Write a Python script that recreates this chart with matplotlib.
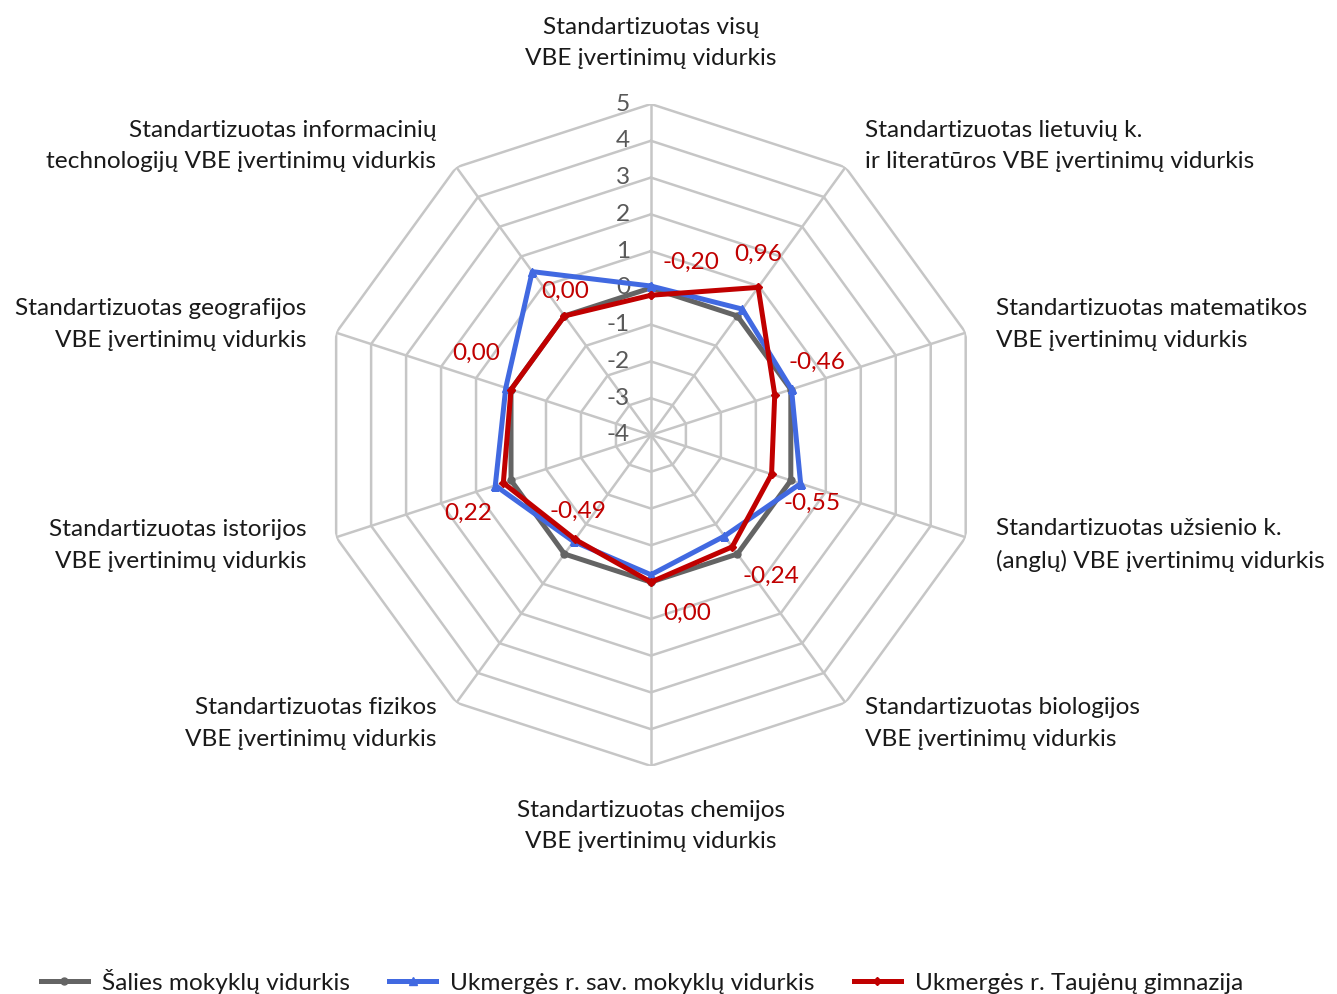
import numpy as np
import matplotlib
matplotlib.use("Agg")
import matplotlib.pyplot as plt

plt.rcParams["font.family"] = ["Lato", "DejaVu Sans"]

categories = [
    "Standartizuotas visų\nVBE įvertinimų vidurkis",
    "Standartizuotas lietuvių k.\nir literatūros VBE įvertinimų vidurkis",
    "Standartizuotas matematikos\nVBE įvertinimų vidurkis",
    "Standartizuotas užsienio k.\n(anglų) VBE įvertinimų vidurkis",
    "Standartizuotas biologijos\nVBE įvertinimų vidurkis",
    "Standartizuotas chemijos\nVBE įvertinimų vidurkis",
    "Standartizuotas fizikos\nVBE įvertinimų vidurkis",
    "Standartizuotas istorijos\nVBE įvertinimų vidurkis",
    "Standartizuotas geografijos\nVBE įvertinimų vidurkis",
    "Standartizuotas informacinių\ntechnologijų VBE įvertinimų vidurkis",
]
salies = [0.00, 0.00, 0.00, 0.00, 0.00, 0.00, 0.00, 0.00, 0.00, 0.00]
ukmerges_sav = [0.05, 0.23, 0.02, 0.28, -0.60, -0.20, -0.42, 0.45, 0.15, 1.49]
taujenu = [-0.20, 0.96, -0.46, -0.55, -0.24, 0.00, -0.49, 0.22, 0.00, 0.00]
series_names = ["Šalies mokyklų vidurkis",
                "Ukmergės r. sav. mokyklų vidurkis",
                "Ukmergės r. Taujėnų gimnazija"]
r_ticks = [-4, -3, -2, -1, 0, 1, 2, 3, 4, 5]

grid_col = "#c6c6c6"
text_col = "#1a1a1a"
tick_col = "#595959"
red = "#c00000"
fs = 17.6

n = len(categories)
theta = np.arange(n) * 2 * np.pi / n
theta_c = np.append(theta, theta[0])

fig = plt.figure(figsize=(13.37, 9.94), dpi=100)
ax = fig.add_axes([0.2393, 0.2294, 0.4951, 0.666], projection="polar")
ax.set_theta_zero_location("N")
ax.set_theta_direction(-1)
ax.set_ylim(r_ticks[0], r_ticks[-1])
ax.set_xticks([])
ax.set_yticks([])
ax.grid(False)
ax.spines["polar"].set_visible(False)
ax.patch.set_visible(False)

# polygon grid
for rv in r_ticks[1:]:
    ax.plot(theta_c, [rv] * (n + 1), color=grid_col, lw=1.8, zorder=1)
for t in theta:
    ax.plot([t, t], [r_ticks[0], r_ticks[-1]], color=grid_col, lw=1.8, zorder=1)

# radial tick labels
for rv in r_ticks:
    ax.annotate(str(rv), xy=(0, rv), xytext=(-21, 0), textcoords="offset pixels",
                ha="right", va="center", fontsize=fs, color=tick_col, zorder=2)

# category labels
label_off = [(0, 61), (20, 21), (30, 8), (30, -8), (20, -21),
             (0, -60), (-20, -21), (-30, -8), (-30, 8), (-20, 21)]
for t, lab, (dx, dy) in zip(theta, categories, label_off):
    ha = "center" if dx == 0 else ("left" if dx > 0 else "right")
    ax.annotate(lab, xy=(t, r_ticks[-1]), xytext=(dx, dy), textcoords="offset pixels",
                ha=ha, va="center", multialignment=ha, fontsize=fs, color=text_col,
                linespacing=1.62, annotation_clip=False)

ax.plot(theta_c, salies + salies[:1], color="#646464", lw=3.6, marker="o", ms=5,
        label=series_names[0], zorder=3)
ax.plot(theta_c, ukmerges_sav + ukmerges_sav[:1], color="#4169e1", lw=3.6, marker="^",
        ms=6, label=series_names[1], zorder=4)
ax.plot(theta_c, taujenu + taujenu[:1], color=red, lw=3.6, marker="D", ms=4,
        label=series_names[2], zorder=5)

# value labels for the school
val_off = [(40, 33), (0, 33), (42, 32), (40, -29), (39, -30),
           (36, -31), (3, 28), (-35, -30), (-35, 36), (1, 25)]
for t, v, (dx, dy) in zip(theta, taujenu, val_off):
    ax.annotate(f"{v:.2f}".replace(".", ","), xy=(t, v), xytext=(dx, dy),
                textcoords="offset pixels", ha="center", va="center",
                fontsize=fs, color=red, zorder=6)

fig.legend(loc="lower center", bbox_to_anchor=(0.48, -0.022), ncol=3, frameon=False,
           fontsize=fs, handlelength=1.95, columnspacing=1.6, handletextpad=0.55,
           labelcolor=text_col)

fig.savefig("out.png", dpi=100)
